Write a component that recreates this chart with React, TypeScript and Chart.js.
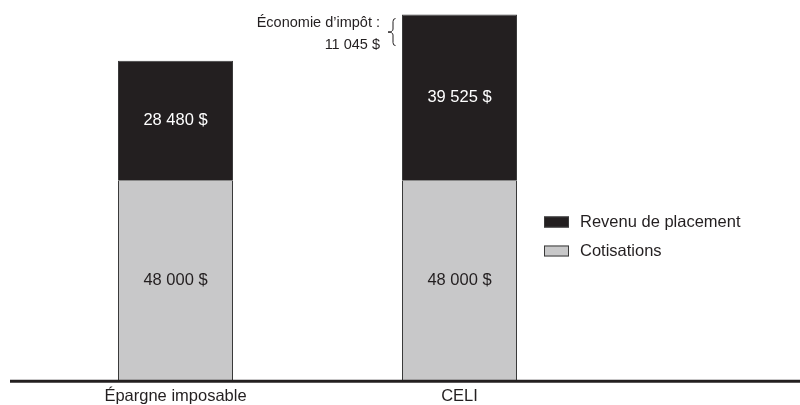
import { useEffect, useRef } from "react";
import { Chart, registerables } from "chart.js";

Chart.register(...registerables);

// Data
const categories = ["Épargne imposable", "CELI"];
const cotisations = [48000, 48000];
const revenuPlacement = [28480, 39525];
const seriesNames = ["Cotisations", "Revenu de placement"];
const savingLabel = "Économie d’impôt :";

const INK = "#231f20";
const GREY = "#c8c8c9";
const EDGE = "#3a3a3a";
const FONT = "'Liberation Sans', Arial, Helvetica, sans-serif";

const fmt = (n: number) =>
  String(Math.round(n)).replace(/\B(?=(\d{3})+(?!\d))/g, " ") + " $";

const overlay = {
  id: "overlay",
  afterDatasetsDraw(chart: any) {
    const ctx: CanvasRenderingContext2D = chart.ctx;
    const yScale = chart.scales.y;
    const zeroY = yScale.getPixelForValue(0);
    ctx.save();

    // Baseline
    ctx.strokeStyle = INK;
    ctx.lineWidth = 3;
    ctx.beginPath();
    ctx.moveTo(10, zeroY);
    ctx.lineTo(chart.width, zeroY);
    ctx.stroke();

    // Segment value labels
    ctx.font = `16.5px ${FONT}`;
    ctx.textAlign = "center";
    ctx.textBaseline = "middle";
    chart.data.datasets.forEach((ds: any, di: number) => {
      const meta = chart.getDatasetMeta(di);
      meta.data.forEach((bar: any, i: number) => {
        const { x, y, base } = bar.getProps(["x", "y", "base"], true);
        ctx.fillStyle = di === 1 ? "#ffffff" : INK;
        ctx.fillText(fmt(ds.data[i]), x, (y + base) / 2);
      });
    });

    // Tax saving annotation next to the CELI bar
    const top = chart.getDatasetMeta(1).data[1];
    const { x: bx, y: by, width: bw } = top.getProps(["x", "y", "width"], true);
    const left = bx - bw / 2;
    const sx = left - 9;
    const tx = left - 14;
    const y0 = by + 4;
    const y1 = by + 31;
    const ym = (y0 + y1) / 2;
    ctx.strokeStyle = INK;
    ctx.lineWidth = 1;
    ctx.beginPath();
    ctx.moveTo(sx + 2.5, y0);
    ctx.quadraticCurveTo(sx, y0, sx, y0 + 3);
    ctx.lineTo(sx, ym - 3);
    ctx.quadraticCurveTo(sx, ym, tx, ym);
    ctx.quadraticCurveTo(sx, ym, sx, ym + 3);
    ctx.lineTo(sx, y1 - 3);
    ctx.quadraticCurveTo(sx, y1, sx + 2.5, y1);
    ctx.stroke();

    const saving = revenuPlacement[1] - revenuPlacement[0];
    ctx.font = `14.5px ${FONT}`;
    ctx.fillStyle = INK;
    ctx.textAlign = "right";
    ctx.fillText(savingLabel, left - 22, by + 8);
    ctx.fillText(fmt(saving), left - 22, by + 30);

    // Legend
    const lx = 544;
    const rows = [
      { name: seriesNames[1], fill: INK, cy: 222 },
      { name: seriesNames[0], fill: GREY, cy: 251 },
    ];
    ctx.font = `16.5px ${FONT}`;
    ctx.textAlign = "left";
    rows.forEach((r) => {
      ctx.fillStyle = r.fill;
      ctx.fillRect(lx, r.cy - 5.5, 25, 11);
      ctx.strokeStyle = EDGE;
      ctx.lineWidth = 1;
      ctx.strokeRect(lx + 0.5, r.cy - 5, 24, 10);
      ctx.fillStyle = INK;
      ctx.fillText(r.name, lx + 36, r.cy);
    });

    ctx.restore();
  },
};

export default function App() {
  const ref = useRef<HTMLCanvasElement | null>(null);

  useEffect(() => {
    document.body.style.margin = "0";
    if (!ref.current) return;
    const chart = new Chart(ref.current, {
      type: "bar",
      data: {
        labels: categories,
        datasets: [
          {
            label: seriesNames[0],
            data: cotisations,
            backgroundColor: GREY,
            borderColor: EDGE,
            borderWidth: 1,
            stack: "s",
          },
          {
            label: seriesNames[1],
            data: revenuPlacement,
            backgroundColor: INK,
            borderColor: EDGE,
            borderWidth: 1,
            stack: "s",
          },
        ],
      },
      options: {
        responsive: false,
        animation: false,
        layout: { padding: { left: 33.5, right: 198.5, top: 0, bottom: 0 } },
        datasets: {
          bar: { categoryPercentage: 1, barPercentage: 115 / 284 },
        },
        scales: {
          x: {
            stacked: true,
            grid: { display: false, drawTicks: false },
            border: { display: false },
            ticks: { color: INK, padding: 5, font: { family: FONT, size: 16.5 } },
          },
          y: { stacked: true, display: false, min: 0, max: 91000 },
        },
        plugins: {
          legend: { display: false },
          tooltip: { enabled: false },
        },
      },
      plugins: [overlay],
    });
    return () => chart.destroy();
  }, []);

  return (
    <div style={{ width: 800, height: 405, overflow: "hidden", background: "#fff" }}>
      <canvas ref={ref} width={800} height={411} style={{ display: "block" }} />
    </div>
  );
}
